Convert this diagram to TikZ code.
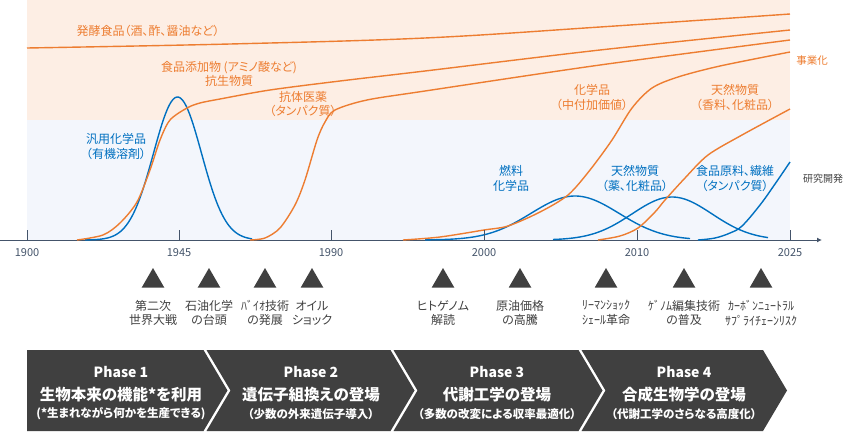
\documentclass[tikz,border=0pt]{standalone}
\usepackage{fontspec}
\setmainfont{Noto Sans CJK JP}[RawFeature=+palt]
\usetikzlibrary{shapes.geometric,arrows.meta}
\definecolor{orangeline}{HTML}{ED7D31}
\definecolor{blueline}{HTML}{0070C0}
\definecolor{orangebg}{HTML}{FDEEE4}
\definecolor{bluebg}{HTML}{F3F6FC}
\definecolor{axisgray}{HTML}{44546A}
\definecolor{eventgray}{HTML}{404040}
\definecolor{phasegray}{HTML}{404040}
\begin{document}
\begin{tikzpicture}[x=1pt,y=-1pt,
    orangetext/.style={text=orangeline,align=center,font=\fontsize{12}{14.5}\selectfont},
    bluetext/.style={text=blueline,align=center,font=\fontsize{12}{14.5}\selectfont},
    eventmark/.style={regular polygon,regular polygon sides=3,fill=eventgray,inner sep=0pt,minimum size=26pt},
    eventtext/.style={text=eventgray,align=center,font=\fontsize{12}{14.5}\selectfont},
    yeartext/.style={text=axisgray,font=\fontsize{11}{13}\selectfont},
    orangecurve/.style={draw=orangeline,line width=1.4pt},
    bluecurve/.style={draw=blueline,line width=1.4pt},
    axisline/.style={draw=axisgray,line width=1pt},
    phasebox/.style={fill=phasegray},
    phasehead/.style={text=white,font=\bfseries\fontsize{14}{16}\selectfont},
    phasemain/.style={text=white,font=\bfseries\fontsize{15.5}{18}\selectfont},
    phasesub/.style={text=white,font=\bfseries\fontsize{11.5}{13}\selectfont}]
  \useasboundingbox (0,0) rectangle (850,431);
  % background bands
  \fill[orangebg] (27,0) rectangle (790,120);
  \fill[bluebg] (27,120) rectangle (790,240);
  % time axis
  \coordinate (axisstart) at (0,240);
  \coordinate (axisend) at (822,240);
  \draw[axisline,-{Latex[length=5pt,width=5pt]}] (axisstart) -- (axisend);
  % research curves
  \draw[bluecurve] plot[domain=85:252,samples=90] (\x,{240-143*exp(-0.5*((\x-177.5)/24)^2)});
  \draw[bluecurve] plot[domain=425:690,samples=90] (\x,{240-44*exp(-0.5*((\x-575)/44)^2)});
  \draw[bluecurve] plot[domain=553:768,samples=90] (\x,{240-43*exp(-0.5*((\x-672)/40)^2)});
  \draw[bluecurve] plot[smooth,tension=0.6] coordinates {(698,240) (715,238) (730,233) (742,226) (760,205) (775,184) (790,162)};
  % business curves
  \draw[orangecurve] plot[smooth,tension=0.6] coordinates {(27,48) (230,44) (425,38) (600,27) (790,14)};
  \draw[orangecurve] plot[smooth,tension=0.5] coordinates {(77,240) (103,235) (120,223) (137,202) (150,170) (160,140) (170,120) (187,108) (200,103) (220,99) (270,90) (340,81) (425,71) (600,50) (790,30)};
  \draw[orangecurve] plot[smooth,tension=0.5] coordinates {(250,240) (265,238) (280,228) (295,205) (305,180) (317,140) (325,122) (335,110) (367,100) (425,91) (600,65) (790,40)};
  \draw[orangecurve] plot[smooth,tension=0.5] coordinates {(403,240) (440,237) (484,230) (508,226) (540,212) (568,195) (590,170) (612,140) (632,108) (652,88) (678,77) (720,66) (790,52)};
  \draw[orangecurve] plot[smooth,tension=0.5] coordinates {(598,240) (620,236) (638,228) (655,212) (665,200) (685,178) (708,155) (742,135) (790,109)};
  % ticks and years
  \draw[axisline] (27,240) -- (27,230);
  \draw[axisline] (179,240) -- (179,230);
  \draw[axisline] (331,240) -- (331,230);
  \draw[axisline] (484,240) -- (484,230);
  \draw[axisline] (637,240) -- (637,230);
  \draw[axisline] (790,240) -- (790,230);
  \node[yeartext] (y1900) at (27,253) {1900};
  \node[yeartext] (y1945) at (179,253) {1945};
  \node[yeartext] (y1990) at (331,253) {1990};
  \node[yeartext] (y2000) at (484,253) {2000};
  \node[yeartext] (y2010) at (637,253) {2010};
  \node[yeartext] (y2025) at (790,253) {2025};
  % curve labels
  \node[orangetext] (hakko) at (148,31) {発酵食品（酒、酢、醤油など）};
  \node[orangetext] (tenka) at (229,74) {食品添加物 (アミノ酸など)\\抗生物質};
  \node[orangetext] (kotai) at (303,104) {抗体医薬\\（タンパク質）};
  \node[orangetext] (kagaku) at (592,97.5) {化学品\\（中付加価値）};
  \node[orangetext] (tennen) at (735,97.5) {天然物質\\（香料、化粧品）};
  \node[text=orangeline,font=\fontsize{10.5}{12}\selectfont] (jigyo) at (812,61) {事業化};
  \node[bluetext] (hanyo) at (116,146.5) {汎用化学品\\（有機溶剤）};
  \node[bluetext] (nenryo) at (511,178.5) {燃料\\化学品};
  \node[bluetext] (tennenR) at (635,178.5) {天然物質\\（薬、化粧品）};
  \node[bluetext] (shokuhin) at (735,178.5) {食品原料、繊維\\（タンパク質）};
  \node[text=eventgray,font=\fontsize{10}{12}\selectfont] (kenkyu) at (823,179) {研究開発};
  % events
  \node[eventmark] (ev1) at (153,281) {};
  \node[eventmark] (ev2) at (209,281) {};
  \node[eventmark] (ev3) at (265,281) {};
  \node[eventmark] (ev4) at (312,281) {};
  \node[eventmark] (ev5) at (443,281) {};
  \node[eventmark] (ev6) at (520,281) {};
  \node[eventmark] (ev7) at (606,281) {};
  \node[eventmark] (ev8) at (684,281) {};
  \node[eventmark] (ev9) at (761,281) {};
  \node[eventtext] (ev1text) at (153,313) {第二次\\世界大戦};
  \node[eventtext] (ev2text) at (209,313) {石油化学\\の台頭};
  \node[eventtext] (ev3text) at (265,313) {ﾊﾞｲｵ技術\\の発展};
  \node[eventtext] (ev4text) at (312,313) {オイル\\ショック};
  \node[eventtext] (ev5text) at (443,313) {ヒトゲノム\\解読};
  \node[eventtext] (ev6text) at (520,313) {原油価格\\の高騰};
  \node[eventtext] (ev7text) at (606,313) {ﾘｰﾏﾝｼｮｯｸ\\ｼｪｰﾙ革命};
  \node[eventtext] (ev8text) at (684,313) {ｹﾞﾉﾑ編集技術\\の普及};
  \node[eventtext] (ev9text) at (761,313) {ｶｰﾎﾞﾝﾆｭｰﾄﾗﾙ\\ｻﾌﾟﾗｲﾁｪｰﾝﾘｽｸ};
  % phases
  \fill[phasebox] (27,350) -- (203.5,350) -- (227.5,390.5) -- (203.5,431) -- (27,431) -- cycle;
  \fill[phasebox] (206.5,350) -- (390.5,350) -- (414.5,390.5) -- (390.5,431) -- (206.5,431) -- (230.5,390.5) -- cycle;
  \fill[phasebox] (393.5,350) -- (578.5,350) -- (602.5,390.5) -- (578.5,431) -- (393.5,431) -- (417.5,390.5) -- cycle;
  \fill[phasebox] (581.5,350) -- (763,350) -- (787,390.5) -- (763,431) -- (581.5,431) -- (605.5,390.5) -- cycle;
  \node[phasehead] (ph1) at (121,372) {Phase 1};
  \node[phasemain] (ph1main) at (121,395) {生物本来の機能*を利用};
  \node[phasesub] (ph1sub) at (121,414) {(*生まれながら何かを生産できる)};
  \node[phasehead] (ph2) at (311,372) {Phase 2};
  \node[phasemain] (ph2main) at (311,395) {遺伝子組換えの登場};
  \node[phasesub] (ph2sub) at (311,414) {（少数の外来遺伝子導入）};
  \node[phasehead] (ph3) at (497,372) {Phase 3};
  \node[phasemain] (ph3main) at (497,395) {代謝工学の登場};
  \node[phasesub] (ph3sub) at (497,414) {（多数の改変による収率最適化）};
  \node[phasehead] (ph4) at (684,372) {Phase 4};
  \node[phasemain] (ph4main) at (684,395) {合成生物学の登場};
  \node[phasesub] (ph4sub) at (684,414) {（代謝工学のさらなる高度化）};
\end{tikzpicture}
\end{document}
